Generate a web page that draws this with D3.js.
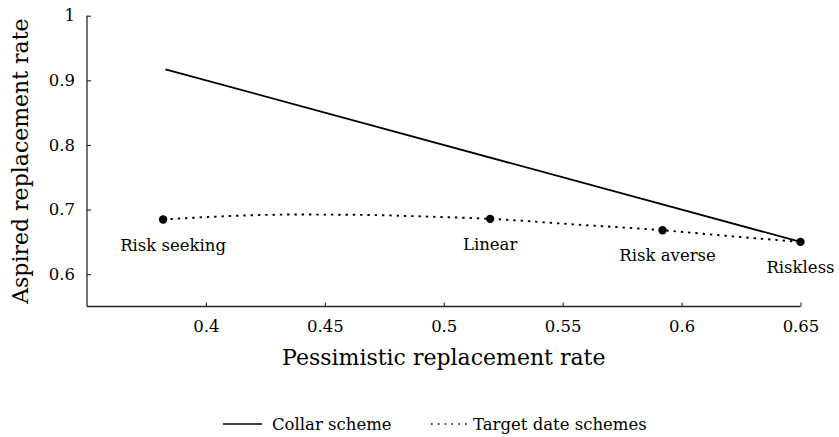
<!DOCTYPE html>
<html>
<head>
<meta charset="utf-8">
<script src="https://cdn.jsdelivr.net/npm/d3@7"></script>
<style>
  html, body { margin: 0; padding: 0; background: #fff; }
  svg text { font-family: "DejaVu Serif", serif !important; fill: #000; }
</style>
</head>
<body>
<svg id="chart" width="839" height="437"></svg>
<script>
// ---- data ----
const collarX = [0.383, 0.65];
const collarY = [0.917, 0.65];

// dotted target-date frontier
const targetCurveX = [0.382, 0.41, 0.437, 0.465, 0.494, 0.5195, 0.555, 0.592, 0.62, 0.65];
const targetCurveY = [0.6846, 0.690, 0.6923, 0.6918, 0.689, 0.6856, 0.677, 0.668, 0.659, 0.65];

const schemeNames = ["Risk seeking", "Linear", "Risk averse", "Riskless"];
const schemeX = [0.382, 0.5195, 0.592, 0.65];
const schemeY = [0.6846, 0.6856, 0.668, 0.65];

const xTicks = [0.4, 0.45, 0.5, 0.55, 0.6, 0.65];
const yTicks = [0.6, 0.7, 0.8, 0.9, 1];
const xTickLabels = ["0.4", "0.45", "0.5", "0.55", "0.6", "0.65"];
const yTickLabels = ["0.6", "0.7", "0.8", "0.9", "1"];

const legendLabels = ["Collar scheme", "Target date schemes"];

// ---- layout ----
const FONT = '"DejaVu Serif", serif';
const svg = d3.select("#chart");
const x = d3.scaleLinear().domain([0.35, 0.65]).range([87, 800.5]);
const y = d3.scaleLinear().domain([0.55, 1]).range([306.5, 15.7]);

// axes
const xAxis = d3.axisBottom(x).tickValues(xTicks).tickSize(-4)
  .tickFormat((d, i) => xTickLabels[i]).tickPadding(14);
const yAxis = d3.axisLeft(y).tickValues(yTicks).tickSize(-4)
  .tickFormat((d, i) => yTickLabels[i]).tickPadding(12);

const gx = svg.append("g").attr("transform", `translate(0,${y(0.55)})`).call(xAxis);
const gy = svg.append("g").attr("transform", `translate(${x(0.35)},0)`).call(yAxis);

[gx, gy].forEach(g => {
  g.attr("font-family", FONT);
  g.select(".domain").attr("stroke", "#262626").attr("stroke-width", 1.3);
  g.selectAll(".tick line").attr("stroke", "#262626").attr("stroke-width", 1.1);
  g.selectAll(".tick text").style("font-size", "16.5px").style("font-family", FONT).attr("fill", "#000");
});
gx.selectAll(".tick text").attr("dy", "0.71em");
gx.select(".domain").attr("d", `M${x(0.35)},0H${x(0.65)}`);
gy.select(".domain").attr("d", `M0,${y(0.55)}V${y(1)}`);

// axis titles
svg.append("text")
  .attr("x", (x(0.35) + x(0.65)) / 2).attr("y", 365)
  .attr("text-anchor", "middle").style("font-size", "22px").style("font-family", FONT)
  .text("Pessimistic replacement rate");
svg.append("text")
  .attr("transform", `translate(28,${(y(0.55) + y(1)) / 2}) rotate(-90)`)
  .attr("text-anchor", "middle").style("font-size", "22px").style("font-family", FONT)
  .text("Aspired replacement rate");

// collar line
const line = d3.line().x(d => x(d[0])).y(d => y(d[1]));
svg.append("path")
  .datum(collarX.map((v, i) => [v, collarY[i]]))
  .attr("d", line).attr("fill", "none")
  .attr("stroke", "#000").attr("stroke-width", 1.8);

// target-date dotted curve
const curveLine = d3.line().x(d => x(d[0])).y(d => y(d[1])).curve(d3.curveMonotoneX);
svg.append("path")
  .datum(targetCurveX.map((v, i) => [v, targetCurveY[i]]))
  .attr("d", curveLine).attr("fill", "none")
  .attr("stroke", "#000").attr("stroke-width", 1.9)
  .attr("stroke-dasharray", "2.4,4.9");

// scheme points
svg.selectAll("circle.scheme")
  .data(schemeX.map((v, i) => ({ x: v, y: schemeY[i], name: schemeNames[i] })))
  .join("circle").attr("class", "scheme")
  .attr("cx", d => x(d.x)).attr("cy", d => y(d.y)).attr("r", 4.2)
  .attr("fill", "#000");

// scheme labels (below each point)
const labelShift = [10, 0, 5, 0];
svg.selectAll("text.scheme")
  .data(schemeX.map((v, i) => ({ x: v, y: schemeY[i], name: schemeNames[i], k: i })))
  .join("text").attr("class", "scheme")
  .attr("x", d => x(d.x) + labelShift[d.k]).attr("y", d => y(d.y) + 31)
  .attr("text-anchor", "middle").style("font-size", "16.5px").style("font-family", FONT)
  .text(d => d.name);

// legend
const legY = 424;
svg.append("line").attr("x1", 223).attr("x2", 262).attr("y1", legY).attr("y2", legY)
  .attr("stroke", "#000").attr("stroke-width", 1.6);
svg.append("text").attr("x", 272).attr("y", legY + 5.5).style("font-size", "16.5px").style("font-family", FONT)
  .text(legendLabels[0]);
svg.append("line").attr("x1", 431).attr("x2", 467).attr("y1", legY).attr("y2", legY)
  .attr("stroke", "#000").attr("stroke-width", 1.4).attr("stroke-dasharray", "1.6,5.2");
svg.append("text").attr("x", 473).attr("y", legY + 5.5).style("font-size", "16.5px").style("font-family", FONT)
  .text(legendLabels[1]);
</script>
</body>
</html>
